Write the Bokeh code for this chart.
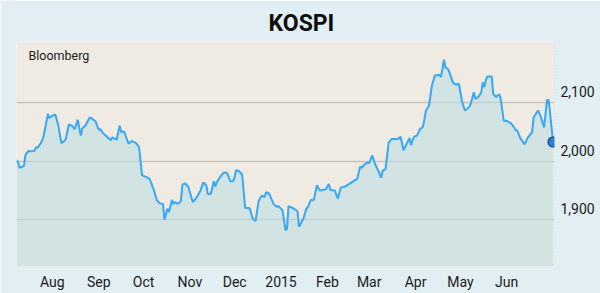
import pandas as pd
from bokeh.plotting import figure
from bokeh.models import (Range1d, LinearAxis, FixedTicker, Span, Label,
                          NumeralTickFormatter, ColumnDataSource)
from bokeh.embed import file_html
from bokeh.resources import INLINE

# ---------------- data ----------------
dates = [
    "2014-07-08", "2014-07-09", "2014-07-10", "2014-07-13", "2014-07-14", "2014-07-16",
    "2014-07-17", "2014-07-20", "2014-07-21", "2014-07-22", "2014-07-24", "2014-07-26",
    "2014-07-29", "2014-07-30", "2014-08-01", "2014-08-03", "2014-08-05", "2014-08-07",
    "2014-08-09", "2014-08-10", "2014-08-12", "2014-08-14", "2014-08-16", "2014-08-18",
    "2014-08-20", "2014-08-21", "2014-08-23", "2014-08-26", "2014-08-28", "2014-08-30",
    "2014-09-01", "2014-09-02", "2014-09-04", "2014-09-09", "2014-09-10", "2014-09-13",
    "2014-09-15", "2014-09-16", "2014-09-18", "2014-09-21", "2014-09-23", "2014-09-26",
    "2014-09-28", "2014-09-30", "2014-10-03", "2014-10-05", "2014-10-06", "2014-10-08",
    "2014-10-10", "2014-10-12", "2014-10-14", "2014-10-15", "2014-10-17", "2014-10-18",
    "2014-10-20", "2014-10-21", "2014-10-22", "2014-10-24", "2014-10-26", "2014-10-27",
    "2014-10-29", "2014-10-31", "2014-11-01", "2014-11-03", "2014-11-05", "2014-11-08",
    "2014-11-10", "2014-11-12", "2014-11-13", "2014-11-15", "2014-11-17", "2014-11-18",
    "2014-11-19", "2014-11-22", "2014-11-24", "2014-11-26", "2014-11-28", "2014-11-30",
    "2014-12-01", "2014-12-02", "2014-12-04", "2014-12-06", "2014-12-08", "2014-12-11",
    "2014-12-13", "2014-12-15", "2014-12-17", "2014-12-19", "2014-12-21", "2014-12-22",
    "2014-12-24", "2014-12-27", "2014-12-29", "2014-12-30", "2015-01-02", "2015-01-04",
    "2015-01-05", "2015-01-06", "2015-01-09", "2015-01-12", "2015-01-13", "2015-01-16",
    "2015-01-18", "2015-01-19", "2015-01-21", "2015-01-23", "2015-01-25", "2015-01-27",
    "2015-01-31", "2015-02-02", "2015-02-03", "2015-02-06", "2015-02-08", "2015-02-10",
    "2015-02-13", "2015-02-15", "2015-02-19", "2015-02-21", "2015-02-23", "2015-02-24",
    "2015-02-26", "2015-02-28", "2015-03-01", "2015-03-03", "2015-03-05", "2015-03-07",
    "2015-03-09", "2015-03-10", "2015-03-12", "2015-03-14", "2015-03-16", "2015-03-20",
    "2015-03-22", "2015-03-24", "2015-03-25", "2015-03-28", "2015-03-29", "2015-03-31",
    "2015-04-02", "2015-04-04", "2015-04-06", "2015-04-08", "2015-04-10", "2015-04-12",
    "2015-04-14", "2015-04-17", "2015-04-18", "2015-04-19", "2015-04-20", "2015-04-21",
    "2015-04-23", "2015-04-26", "2015-04-28", "2015-04-30", "2015-05-02", "2015-05-04",
    "2015-05-07", "2015-05-08", "2015-05-10", "2015-05-11", "2015-05-13", "2015-05-15",
    "2015-05-16", "2015-05-17", "2015-05-18", "2015-05-19", "2015-05-22", "2015-05-23",
    "2015-05-25", "2015-05-27", "2015-05-28", "2015-05-30", "2015-06-01", "2015-06-04",
    "2015-06-06", "2015-06-07", "2015-06-08", "2015-06-10", "2015-06-13", "2015-06-15",
    "2015-06-18", "2015-06-19", "2015-06-22", "2015-06-24", "2015-06-26", "2015-06-28",
    "2015-06-29", "2015-06-30", "2015-07-02",
]
kospi = [
    2001, 1999, 1989, 1992, 2011, 2018,
    2017, 2018, 2024, 2023, 2030, 2041,
    2081, 2074, 2078, 2080, 2061, 2031,
    2035, 2038, 2063, 2061, 2055, 2071,
    2044, 2056, 2061, 2075, 2072, 2068,
    2054, 2055, 2048, 2036, 2041, 2037,
    2061, 2050, 2051, 2030, 2035, 2031,
    2024, 1976, 1973, 1970, 1964, 1950,
    1933, 1928, 1927, 1900, 1919, 1913,
    1934, 1927, 1930, 1927, 1932, 1960,
    1962, 1956, 1947, 1930, 1936, 1949,
    1964, 1959, 1944, 1944, 1966, 1957,
    1964, 1976, 1981, 1980, 1966, 1966,
    1973, 1985, 1983, 1977, 1920, 1920,
    1902, 1898, 1932, 1941, 1939, 1947,
    1945, 1927, 1922, 1924, 1916, 1882,
    1885, 1923, 1920, 1915, 1888, 1902,
    1919, 1922, 1934, 1934, 1959, 1950,
    1952, 1961, 1951, 1950, 1936, 1955,
    1957, 1960, 1967, 1970, 1991, 1989,
    1995, 1998, 1997, 2010, 1995, 1984,
    1972, 1984, 1987, 2032, 2038, 2038,
    2042, 2019, 2024, 2040, 2028, 2042,
    2044, 2055, 2059, 2087, 2095, 2130,
    2147, 2148, 2144, 2158, 2174, 2161,
    2157, 2135, 2131, 2133, 2104, 2087,
    2093, 2099, 2118, 2107, 2110, 2118,
    2135, 2127, 2138, 2145, 2145, 2115,
    2110, 2115, 2107, 2070, 2069, 2065,
    2058, 2053, 2053, 2040, 2029, 2040,
    2050, 2075, 2087, 2075, 2058, 2105,
    2105, 2084, 2033,
]
tick_dates = ["2014-08-01", "2014-09-01", "2014-10-01", "2014-11-01", "2014-12-01",
              "2015-01-01", "2015-02-01", "2015-03-01", "2015-04-01", "2015-05-01",
              "2015-06-01"]
tick_labels = ["Aug", "Sep", "Oct", "Nov", "Dec", "2015", "Feb", "Mar", "Apr", "May", "Jun"]
y_ticks = [1900, 2000, 2100]
title_text = "KOSPI"
source_text = "Bloomberg"

# ---------------- styling ----------------
X_START, X_END = pd.Timestamp("2014-07-08"), pd.Timestamp("2015-07-03")
Y_START, Y_END = 1820, 2205
LABEL_SHIFT = 18.8          # value units: the y labels sit ~11px above their grid lines
FONT = "Roboto"
OUTER_BG = "#e1eef4"
PLOT_BG = "#efebe3"
LINE_COL = "#38a8f4"

x = pd.to_datetime(dates)
src = ColumnDataSource(dict(x=x, y=kospi))

p = figure(width=600, height=293, x_axis_type="datetime",
           x_range=Range1d(X_START, X_END), y_range=Range1d(Y_START, Y_END),
           y_axis_location=None, output_backend="svg", toolbar_location=None,
           min_border_left=16, min_border_right=46, min_border_top=41,
           min_border_bottom=27)
p.background_fill_color = PLOT_BG
p.border_fill_color = OUTER_BG
p.outline_line_color = None

# title
p.title.text = title_text
p.title.align = "left"
p.title.offset = 252
p.title.standoff = 10
p.title.text_font = FONT
p.title.text_font_size = "23px"
p.title.text_font_style = "bold"
p.title.text_color = "#0d0d0d"

# grid
p.xgrid.visible = False
p.ygrid.ticker = FixedTicker(ticks=y_ticks)
p.ygrid.grid_line_color = "#c9c6bc"
p.ygrid.grid_line_width = 1.5

# area + line
p.varea(x="x", y1=Y_START, y2="y", source=src, fill_color="#b4dce4", fill_alpha=0.5)
p.line(x="x", y="y", source=src, line_color=LINE_COL, line_width=2)

# end marker
p.scatter(x=[x[-1]], y=[kospi[-1]], size=10, fill_color="#2f7fd6",
          line_color="#15407a", line_width=1.2)

# dotted right edge
p.add_layout(Span(location=X_END, dimension="height", line_color="#8fc3ea",
                  line_width=1, line_dash="1 2"))

# x axis
xt = [pd.Timestamp(d).value / 1e6 for d in tick_dates]
ax = p.xaxis[0]
ax.ticker = FixedTicker(ticks=xt)
ax.major_label_overrides = {t: lab for t, lab in zip(xt, tick_labels)}
ax.axis_line_color = None
ax.major_tick_line_color = None
ax.minor_tick_line_color = None
ax.major_tick_out = 0
ax.major_label_standoff = 7
ax.major_label_text_font = FONT
ax.major_label_text_font_size = "14px"
ax.major_label_text_color = "#1b1b1b"

# y axis on the right (labels shifted above grid lines)
p.extra_y_ranges = {"lab": Range1d(Y_START - LABEL_SHIFT, Y_END - LABEL_SHIFT)}
yax = LinearAxis(y_range_name="lab", ticker=FixedTicker(ticks=y_ticks),
                 formatter=NumeralTickFormatter(format="0,0"))
yax.axis_line_color = None
yax.major_tick_line_color = None
yax.minor_tick_line_color = None
yax.major_tick_out = 0
yax.major_label_standoff = 6
yax.major_label_text_font = FONT
yax.major_label_text_font_size = "14px"
yax.major_label_text_color = "#1b1b1b"
p.add_layout(yax, "right")

# source label
p.add_layout(Label(x=X_START, y=Y_END, text=source_text, x_offset=12, y_offset=-6,
                   text_baseline="top", text_font=FONT, text_font_size="12.5px",
                   text_color="#1b1b1b"))

open("out.html", "w").write(file_html(p, INLINE))
